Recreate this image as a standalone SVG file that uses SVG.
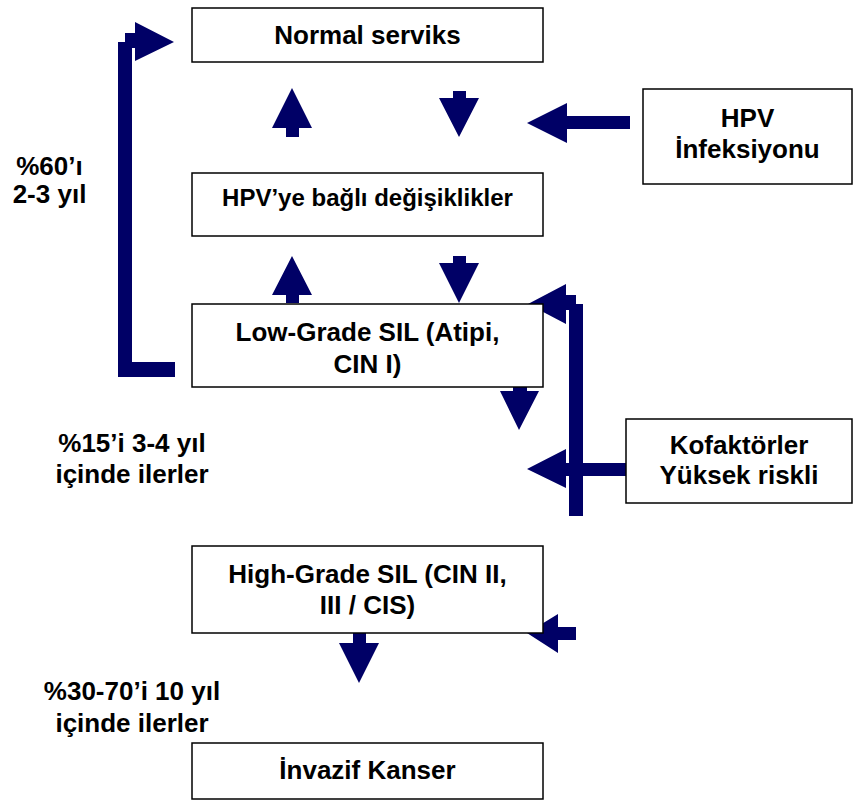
<svg xmlns="http://www.w3.org/2000/svg" width="853" height="800" viewBox="0 0 853 800">
<style>
.box{fill:#fff;stroke:#000;stroke-width:1.5}
.t{font-family:"Liberation Sans",Arial,sans-serif;font-weight:bold;font-size:26px;fill:#000;text-anchor:middle}
.s{font-size:24px}
.ar{fill:#000066}
</style>
<rect width="853" height="800" fill="#fff"/>
<g id="connectors">
<polygon class="ar" points="292,88 312,128 299,128 299,137 286,137 286,128 272,128"/>
<polygon class="ar" points="453,91 466,91 466,98 479,98 459,137 439,98 453,98"/>
<polygon class="ar" points="630,116 630,129 567,129 567,143 527,123 567,103 567,116"/>
<polygon class="ar" points="292,256 312,295 299,295 299,303 286,303 286,295 272,295"/>
<polygon class="ar" points="453,256 466,256 466,263 479,263 459,303 439,263 453,263"/>
<polygon class="ar" points="513,387 527,387 527,391 539,391 519,430 500,391 513,391"/>
<polygon class="ar" points="627,463 627,476 566,476 566,488 527,469 566,449 566,463"/>
<polygon class="ar" points="569,516 583,516 583,304 576,304 576,295 566,295 566,284 528,304 566,324 566,310 569,310"/>
<polygon class="ar" points="175,377 118,377 118,42 125,42 125,33 135,33 135,22 174,42 135,61 135,48 132,48 132,362 175,362"/>
<polygon class="ar" points="576,627 576,640 558,640 558,653 527,633 558,614 558,627"/>
<polygon class="ar" points="353,633 366,633 366,643 379,643 359,683 339,643 353,643"/>
</g>
<g id="normal">
<rect class="box" x="192" y="8" width="351" height="54"/>
<text class="t" x="367.5" y="44">Normal serviks</text>
</g>
<g id="hpv">
<rect class="box" x="643" y="89" width="209" height="95"/>
<text class="t" x="747.5" y="127">HPV</text>
<text class="t" x="747.5" y="158">İnfeksiyonu</text>
</g>
<g id="hpvchanges">
<rect class="box" x="192" y="173" width="351" height="63"/>
<text class="t s" x="367.5" y="206">HPV’ye bağlı değişiklikler</text>
</g>
<g id="lowgrade">
<rect class="box" x="192" y="304" width="351" height="83"/>
<text class="t" x="367.5" y="341">Low-Grade SIL (Atipi,</text>
<text class="t" x="367.5" y="373">CIN I)</text>
</g>
<g id="kofaktor">
<rect class="box" x="626" y="419" width="226" height="84"/>
<text class="t" x="739" y="454">Kofaktörler</text>
<text class="t" x="739" y="484">Yüksek riskli</text>
</g>
<g id="highgrade">
<rect class="box" x="192" y="546" width="351" height="87"/>
<text class="t" x="367.5" y="583">High-Grade SIL (CIN II,</text>
<text class="t" x="367.5" y="614">III / CIS)</text>
</g>
<g id="invazif">
<rect class="box" x="192" y="743" width="351" height="56"/>
<text class="t" x="367.5" y="779">İnvazif Kanser</text>
</g>
<g id="labels">
<text class="t" x="49.5" y="175">%60’ı</text>
<text class="t" x="49.5" y="203">2-3 yıl</text>
<text class="t" x="132" y="452">%15’i 3-4 yıl</text>
<text class="t" x="132" y="483">içinde ilerler</text>
<text class="t" x="132" y="700">%30-70’i 10 yıl</text>
<text class="t" x="132" y="732">içinde ilerler</text>
</g>
</svg>
